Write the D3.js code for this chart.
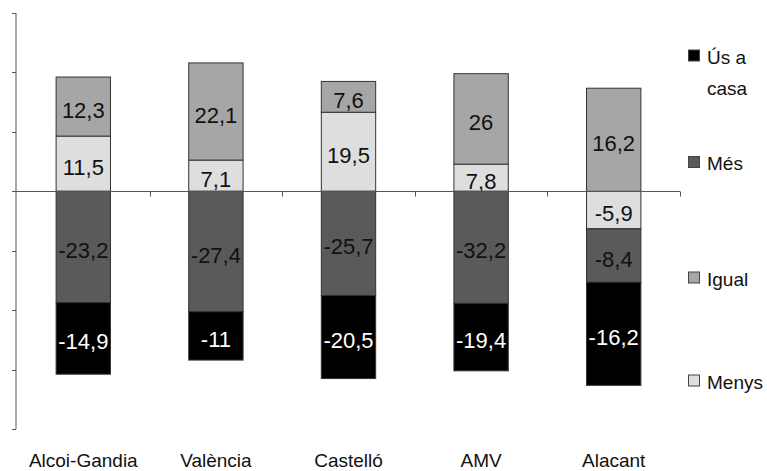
<!DOCTYPE html>
<html>
<head>
<meta charset="utf-8">
<script src="https://cdn.jsdelivr.net/npm/d3@7"></script>
<style>
  html, body { margin: 0; padding: 0; background: #fff; }
  svg { display: block; font-family: "Liberation Sans", Arial, sans-serif; }
</style>
</head>
<body>
<svg id="chart" width="767" height="471"></svg>
<script>
// ---- data ----
const categories = ["Alcoi-Gandia", "València", "Castelló", "AMV", "Alacant"];
const usACasa = [-14.9, -11, -20.5, -19.4, -16.2];
const mes     = [-23.2, -27.4, -25.7, -32.2, -8.4];
const igual   = [12.3, 22.1, 7.6, 26, 16.2];
const menys   = [11.5, 7.1, 19.5, 7.8, -5.9];
const seriesNames = ["Ús a casa", "Més", "Igual", "Menys"];
const yTicks = [-80, -60, -40, -20, 0, 20, 40, 60];

// ---- build table: each bar scaled to 100 % of its absolute total ----
const raw = { "Ús a casa": usACasa, "Més": mes, "Igual": igual, "Menys": menys };
const rows = categories.map((c, i) => {
  const total = seriesNames.reduce((s, k) => s + Math.abs(raw[k][i]), 0);
  const r = { cat: c };
  seriesNames.forEach(k => { r[k] = raw[k][i] / total * 100; r["lbl_" + k] = raw[k][i]; });
  return r;
});

const colors = { "Ús a casa": "#000000", "Més": "#5a5a5a", "Igual": "#a6a6a6", "Menys": "#dedede" };
const stackOrder = ["Menys", "Més", "Igual", "Ús a casa"];

const svg = d3.select("#chart");
const x = d3.scaleBand().domain(categories).range([17, 680]).padding(0);
const y = d3.scaleLinear().domain([-80, 60]).range([429, 13]);
const barW = x.bandwidth() * 0.41;

const stack = d3.stack().keys(stackOrder).offset(d3.stackOffsetDiverging);
const layers = stack(rows);

// y axis
svg.append("line").attr("x1", 16).attr("x2", 16).attr("y1", y(60)).attr("y2", y(-80))
  .attr("stroke", "#555").attr("stroke-width", 1);
svg.selectAll(".ytick").data(yTicks).enter().append("line")
  .attr("x1", 12).attr("x2", 16)
  .attr("y1", d => Math.round(y(d)) + 0.5).attr("y2", d => Math.round(y(d)) + 0.5)
  .attr("stroke", "#555");

// bars
const g = svg.append("g");
layers.forEach(layer => {
  const key = layer.key;
  g.selectAll(null).data(layer).enter().append("rect")
    .attr("x", d => x(d.data.cat) + x.bandwidth() / 2 - barW / 2)
    .attr("y", d => y(Math.max(d[0], d[1])))
    .attr("width", barW)
    .attr("height", d => Math.abs(y(d[0]) - y(d[1])))
    .attr("fill", colors[key])
    .attr("stroke", "#333")
    .attr("stroke-width", 1);
});

// zero line + category ticks
const y0 = Math.round(y(0)) + 0.5;
svg.append("line").attr("x1", 12).attr("x2", 680).attr("y1", y0).attr("y2", y0)
  .attr("stroke", "#555");
const bounds = categories.map(c => x(c) + x.bandwidth());
svg.selectAll(".xtick").data(bounds).enter().append("line")
  .attr("x1", d => Math.round(d) + 0.5).attr("x2", d => Math.round(d) + 0.5)
  .attr("y1", y0).attr("y2", y0 + 5).attr("stroke", "#555");

// value labels
layers.forEach(layer => {
  const key = layer.key;
  g.selectAll(null).data(layer).enter().append("text")
    .attr("x", d => x(d.data.cat) + x.bandwidth() / 2)
    .attr("y", d => (y(d[0]) + y(d[1])) / 2)
    .attr("dy", "0.5em")
    .attr("text-anchor", "middle")
    .attr("font-size", 22)
    .attr("fill", key === "Ús a casa" ? "#fff" : "#111")
    .text(d => String(d.data["lbl_" + key]).replace(".", ","));
});

// category labels
svg.selectAll(".cat").data(categories).enter().append("text")
  .attr("x", d => x(d) + x.bandwidth() / 2)
  .attr("y", 467)
  .attr("text-anchor", "middle")
  .attr("font-size", 19)
  .attr("fill", "#111")
  .text(d => d);

// legend
const legendY = [55.5, 162, 277.5, 380.5];
const lg = svg.append("g");
seriesNames.forEach((k, i) => {
  lg.append("rect").attr("x", 688.5).attr("y", legendY[i] - 5.5).attr("width", 11).attr("height", 11)
    .attr("fill", colors[k]).attr("stroke", "#444");
  const t = lg.append("text").attr("x", 707).attr("y", legendY[i] + 8)
    .attr("font-size", 19).attr("fill", "#111");
  if (k === "Ús a casa") {
    t.append("tspan").attr("x", 707).text("Ús a");
    t.append("tspan").attr("x", 707).attr("dy", 31).text("casa");
  } else {
    t.text(k);
  }
});
</script>
</body>
</html>
